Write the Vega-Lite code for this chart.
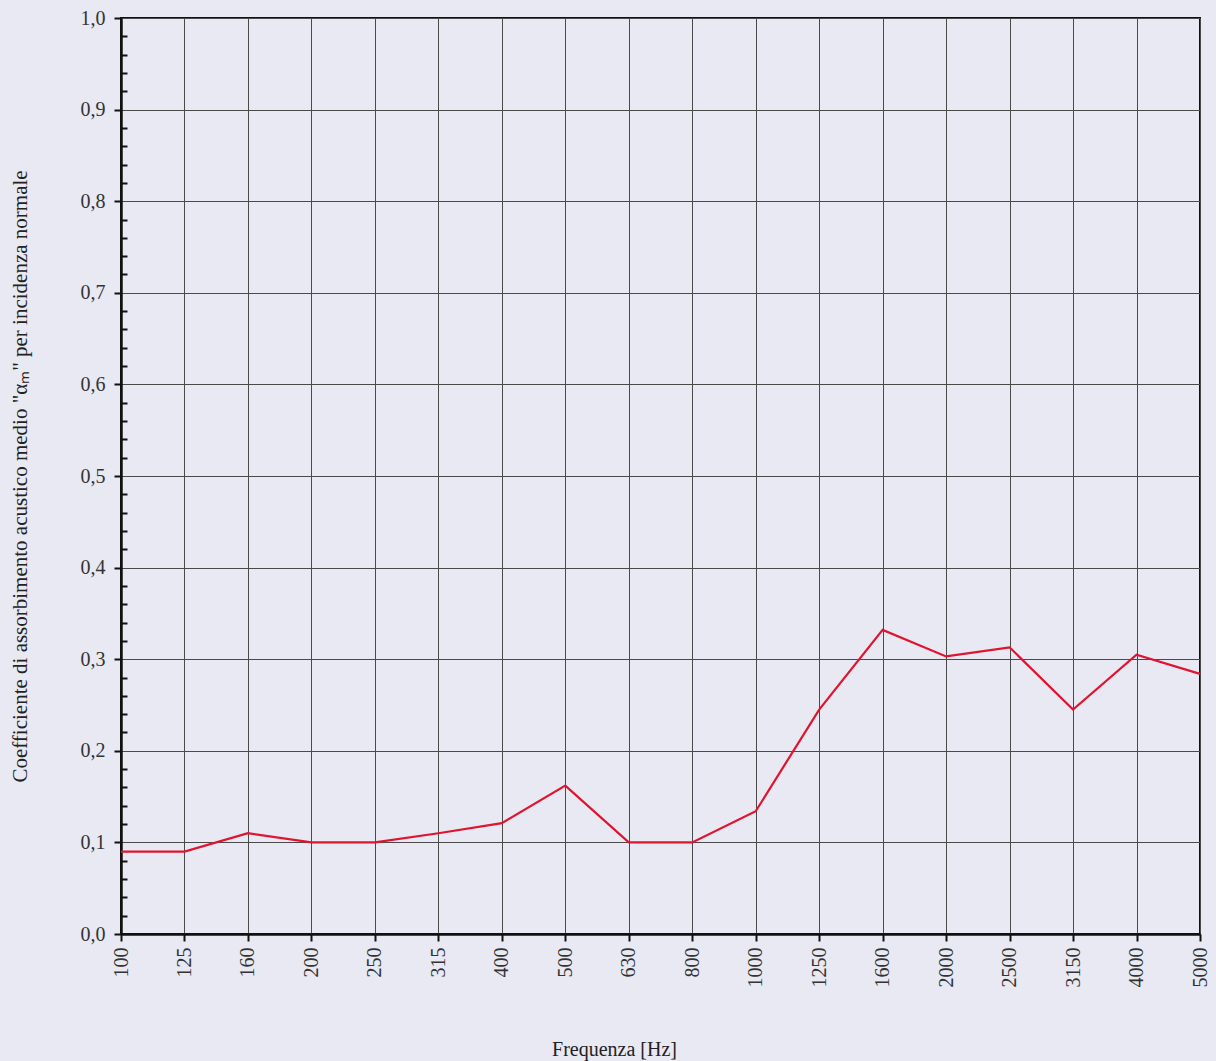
{
  "$schema": "https://vega.github.io/schema/vega-lite/v6.json",
  "width": 1079,
  "height": 916,
  "autosize": "none",
  "padding": {"left": 121, "top": 18, "right": 16, "bottom": 127},
  "background": "#e8e9f3",
  "config": {
    "view": {"stroke": "#111111", "strokeWidth": 2},
    "font": "Liberation Serif"
  },
  "data": {
    "values": [
      {"f": "100", "a": 0.09},
      {"f": "125", "a": 0.09},
      {"f": "160", "a": 0.11},
      {"f": "200", "a": 0.10},
      {"f": "250", "a": 0.10},
      {"f": "315", "a": 0.11},
      {"f": "400", "a": 0.121},
      {"f": "500", "a": 0.162},
      {"f": "630", "a": 0.10},
      {"f": "800", "a": 0.10},
      {"f": "1000", "a": 0.134},
      {"f": "1250", "a": 0.245},
      {"f": "1600", "a": 0.332},
      {"f": "2000", "a": 0.303},
      {"f": "2500", "a": 0.313},
      {"f": "3150", "a": 0.245},
      {"f": "4000", "a": 0.305},
      {"f": "5000", "a": 0.284}
    ]
  },
  "mark": {"type": "line", "color": "#e0142f", "strokeWidth": 2.2},
  "encoding": {
    "x": {
      "field": "f",
      "type": "ordinal",
      "sort": null,
      "scale": {"type": "point", "padding": 0},
      "axis": {
        "title": "Frequenza [Hz]",
        "titleFontSize": 20,
        "titleFontWeight": "normal",
        "titleColor": "#222222",
        "titlePadding": 52,
        "titleX": 493,
        "labelAngle": -90,
        "labelFontSize": 20,
        "labelColor": "#333333",
        "labelPadding": 6,
        "grid": true,
        "gridColor": "#4a4a4a",
        "gridWidth": 1,
        "gridOpacity": 1,
        "domainColor": "#111111",
        "domainWidth": 2.5,
        "tickColor": "#111111",
        "tickSize": 7,
        "tickWidth": 2
      }
    },
    "y": {
      "field": "a",
      "type": "quantitative",
      "scale": {"domain": [0, 1], "nice": false},
      "axis": {
        "title": "Coefficiente di assorbimento acustico medio \"αₘ\" per incidenza normale",
        "titleFontSize": 21,
        "titleFontWeight": "normal",
        "titleColor": "#222222",
        "titlePadding": 50,
        "values": [0, 0.02, 0.04, 0.06, 0.08, 0.1, 0.12, 0.14, 0.16, 0.18, 0.2, 0.22, 0.24, 0.26, 0.28, 0.3, 0.32, 0.34, 0.36, 0.38, 0.4, 0.42, 0.44, 0.46, 0.48, 0.5, 0.52, 0.54, 0.56, 0.58, 0.6, 0.62, 0.64, 0.66, 0.68, 0.7, 0.72, 0.74, 0.76, 0.78, 0.8, 0.82, 0.84, 0.86, 0.88, 0.9, 0.92, 0.94, 0.96, 0.98, 1.0],
        "labelExpr": "round(datum.value*100) % 10 == 0 ? replace(format(datum.value, '.1f'), '.', ',') : ''",
        "labelFontSize": 20,
        "labelColor": "#333333",
        "labelPadding": 9,
        "grid": true,
        "gridColor": "#4a4a4a",
        "gridWidth": 1,
        "gridOpacity": {"condition": {"test": "round(datum.value*100) % 10 == 0", "value": 1}, "value": 0},
        "domainColor": "#111111",
        "domainWidth": 2.5,
        "tickColor": "#111111",
        "tickWidth": 2,
        "tickSize": {"condition": {"test": "round(datum.value*100) % 10 == 0", "value": 7}, "value": -6}
      }
    }
  }
}
